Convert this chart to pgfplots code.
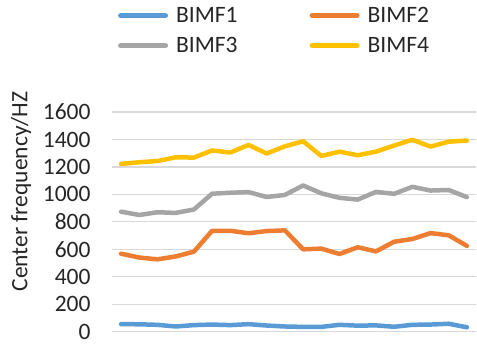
\documentclass[border=0pt]{standalone}
\usepackage{fontspec}
\setmainfont{Carlito}
\usepackage{pgfplots}
\pgfplotsset{compat=1.18}

\definecolor{imfblue}{HTML}{5B9BD5}
\definecolor{imforange}{HTML}{ED7D31}
\definecolor{imfgray}{HTML}{A5A5A5}
\definecolor{imfyellow}{HTML}{FFC000}
\definecolor{gridgray}{HTML}{D9D9D9}
\newcommand{\fs}{\fontsize{23.5bp}{28bp}\selectfont}

\begin{document}
\begin{tikzpicture}
\begin{axis}[
  scale only axis,
  width=364bp, height=219.7bp,
  xmin=-0.5, xmax=19.5,
  ymin=0, ymax=1600,
  ytick={0,200,...,1600},
  xtick=\empty,
  ymajorgrids,
  grid style={draw=gridgray, line width=1.2bp},
  axis line style={draw=none},
  major tick length=0pt,
  tick label style={font=\fs, text=black!85},
  yticklabel style={inner sep=0pt, xshift=-21.3bp},
  /pgf/number format/assume math mode=true,
  /pgf/number format/1000 sep={},
  ylabel={Center frequency/HZ},
  ylabel style={font=\fs, text=black!85, at={(axis description cs:-0.25,0.638)}, anchor=center},
  every axis plot/.append style={line width=4.5bp, line join=round, line cap=round},
  legend columns=2,
  legend image code/.code={\draw[#1, line width=5bp, line cap=round] (2.5bp,0bp) -- (47.5bp,0bp);},
  legend style={draw=none, fill=none, font=\fs, text=black!85,
    at={(axis description cs:0.008,1.487)}, anchor=north west,
    row sep=13bp,
    nodes={inner sep=0pt, text height=15bp, text depth=2bp},
    /tikz/every odd column/.style={column sep=8bp},
    /tikz/every even column/.style={column sep=72bp}},
]
% BIMF1
\addplot[imfblue] coordinates {
  (0,55) (1,54) (2,50) (3,38) (4,48) (5,52) (6,48) (7,55) (8,45) (9,38)
  (10,35) (11,35) (12,50) (13,44) (14,46) (15,36) (16,50) (17,52) (18,58) (19,32)};
\addlegendentry{BIMF1}
% BIMF2
\addplot[imforange] coordinates {
  (0,568) (1,540) (2,527) (3,548) (4,583) (5,735) (6,735) (7,717) (8,733) (9,738)
  (10,600) (11,605) (12,566) (13,615) (14,585) (15,655) (16,675) (17,718) (18,702) (19,625)};
\addlegendentry{BIMF2}
% BIMF3
\addplot[imfgray] coordinates {
  (0,874) (1,850) (2,870) (3,865) (4,890) (5,1005) (6,1012) (7,1017) (8,981) (9,996)
  (10,1065) (11,1008) (12,975) (13,962) (14,1018) (15,1004) (16,1055) (17,1028) (18,1032) (19,980)};
\addlegendentry{BIMF3}
% BIMF4
\addplot[imfyellow] coordinates {
  (0,1222) (1,1234) (2,1243) (3,1270) (4,1268) (5,1320) (6,1305) (7,1360) (8,1298) (9,1350)
  (10,1387) (11,1280) (12,1311) (13,1285) (14,1311) (15,1356) (16,1398) (17,1348) (18,1384) (19,1392)};
\addlegendentry{BIMF4}
\end{axis}
% page extent
\path (-112bp,-12.3bp) rectangle (365bp,331.7bp);
\end{tikzpicture}
\end{document}
